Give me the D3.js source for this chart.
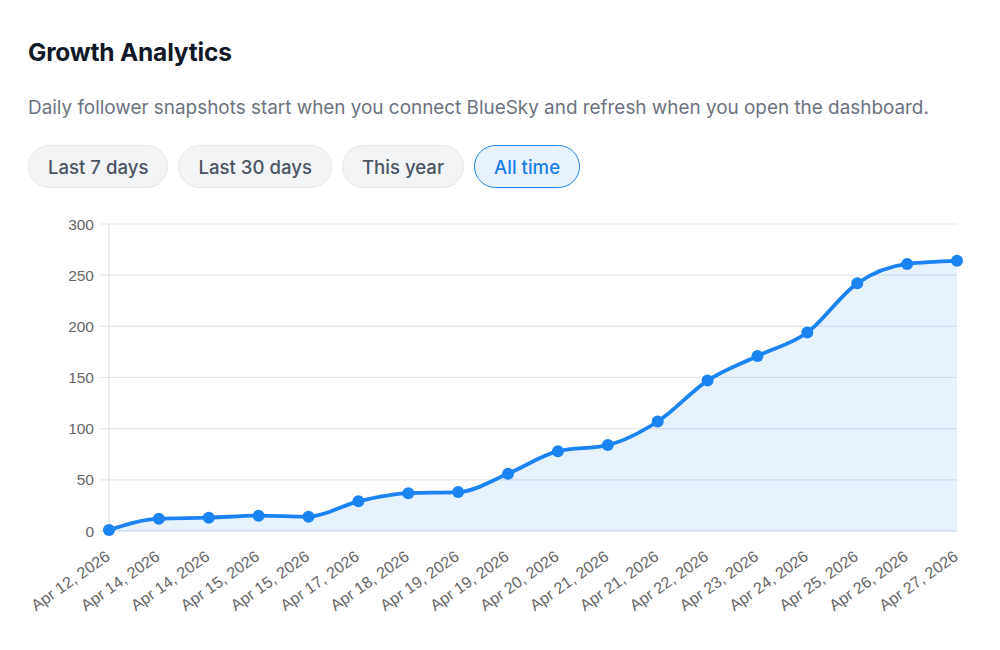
<!DOCTYPE html>
<html>
<head>
<meta charset="utf-8">
<script src="https://cdn.jsdelivr.net/npm/d3@7"></script>
<style>
  html, body { margin: 0; padding: 0; background: #fff; }
  body { width: 1000px; height: 650px; overflow: hidden; font-family: Inter, "Noto Sans", sans-serif; }
  h2 { position: absolute; left: 28px; top: 37px; margin: 0; font-size: 24.5px; font-weight: 700; color: #111827; letter-spacing: -0.2px; line-height: 30px; }
  p.sub { position: absolute; left: 28px; top: 96px; margin: 0; font-size: 18.9px; color: #6b7280; line-height: 24px; }
  .btns { position: absolute; left: 28px; top: 145px; display: flex; gap: 10px; }
  .btn { height: 43px; box-sizing: border-box; padding: 0 19px; border-radius: 22px; border: 1px solid #e4e6ea; background: #f3f4f6; color: #4b5563; font-size: 18.6px; font-weight: 500; display: flex; align-items: center; justify-content: center; }
  .btn.active { background: #e8f3ff; border: 1.5px solid #1d84ee; color: #1a7fe8; }
  svg { position: absolute; left: 0; top: 0; }
</style>
</head>
<body>
<h2>Growth Analytics</h2>
<p class="sub">Daily follower snapshots start when you connect BlueSky and refresh when you open the dashboard.</p>
<div class="btns" id="btns"></div>
<svg id="chart" width="1000" height="650"></svg>
<script>
const ranges = ["Last 7 days", "Last 30 days", "This year", "All time"];
const activeRange = "All time";
const dates = ["Apr 12, 2026","Apr 14, 2026","Apr 14, 2026","Apr 15, 2026","Apr 15, 2026","Apr 17, 2026","Apr 18, 2026","Apr 19, 2026","Apr 19, 2026","Apr 20, 2026","Apr 21, 2026","Apr 21, 2026","Apr 22, 2026","Apr 23, 2026","Apr 24, 2026","Apr 25, 2026","Apr 26, 2026","Apr 27, 2026"];
const followers = [1, 12, 13, 15, 14, 29, 37, 38, 56, 78, 84, 107, 147, 171, 194, 242, 261, 264];
const yTicks = [0, 50, 100, 150, 200, 250, 300];

d3.select("#btns").selectAll("div").data(ranges).enter().append("div")
  .attr("class", d => "btn" + (d === activeRange ? " active" : ""))
  .text(d => d);

(function () {
const svg = d3.select("#chart");
const pLeft = 109, pRight = 957, pTop = 224, pBottom = 531;
const x = d3.scalePoint().domain(d3.range(dates.length)).range([pLeft, pRight]);
const y = d3.scaleLinear().domain([0, 300]).range([pBottom, pTop]);
const font = '"Liberation Sans", Arial, sans-serif';

// grid
svg.append("g").selectAll("line").data(yTicks).enter().append("line")
  .attr("x1", pLeft - 9).attr("x2", pRight)
  .attr("y1", d => y(d)).attr("y2", d => y(d))
  .attr("stroke", d => d === 0 ? "#c9d3de" : "#e5e7eb").attr("stroke-width", 1.2);
svg.append("line").attr("x1", pLeft).attr("x2", pLeft).attr("y1", pTop).attr("y2", pBottom)
  .attr("stroke", "#e1e3e6").attr("stroke-width", 1.2);

// y labels
svg.append("g").selectAll("text").data(yTicks).enter().append("text")
  .attr("x", pLeft - 15).attr("y", d => y(d)).attr("dy", "0.36em")
  .attr("text-anchor", "end").attr("font-family", font).attr("font-size", 15.5)
  .attr("fill", "#666").text(d => d);

// area + line
const idx = d3.range(followers.length);
const area = d3.area().x(i => x(i)).y0(y(0)).y1(i => y(followers[i])).curve(d3.curveMonotoneX);
const line = d3.line().x(i => x(i)).y(i => y(followers[i])).curve(d3.curveMonotoneX);
svg.append("path").attr("d", area(idx)).attr("fill", "rgba(30,136,245,0.11)");
svg.append("path").attr("d", line(idx)).attr("fill", "none").attr("stroke", "#1b84f2").attr("stroke-width", 3.8);
svg.append("g").selectAll("circle").data(idx).enter().append("circle")
  .attr("cx", i => x(i)).attr("cy", i => y(followers[i])).attr("r", 6).attr("fill", "#1b84f2");

// x labels
svg.append("g").selectAll("text").data(idx).enter().append("text")
  .attr("transform", i => `translate(${x(i) + 2},${pBottom + 28}) rotate(-35)`)
  .attr("text-anchor", "end").attr("font-family", font).attr("font-size", 16)
  .attr("fill", "#666").text(i => dates[i]);
})();
</script>
</body>
</html>
